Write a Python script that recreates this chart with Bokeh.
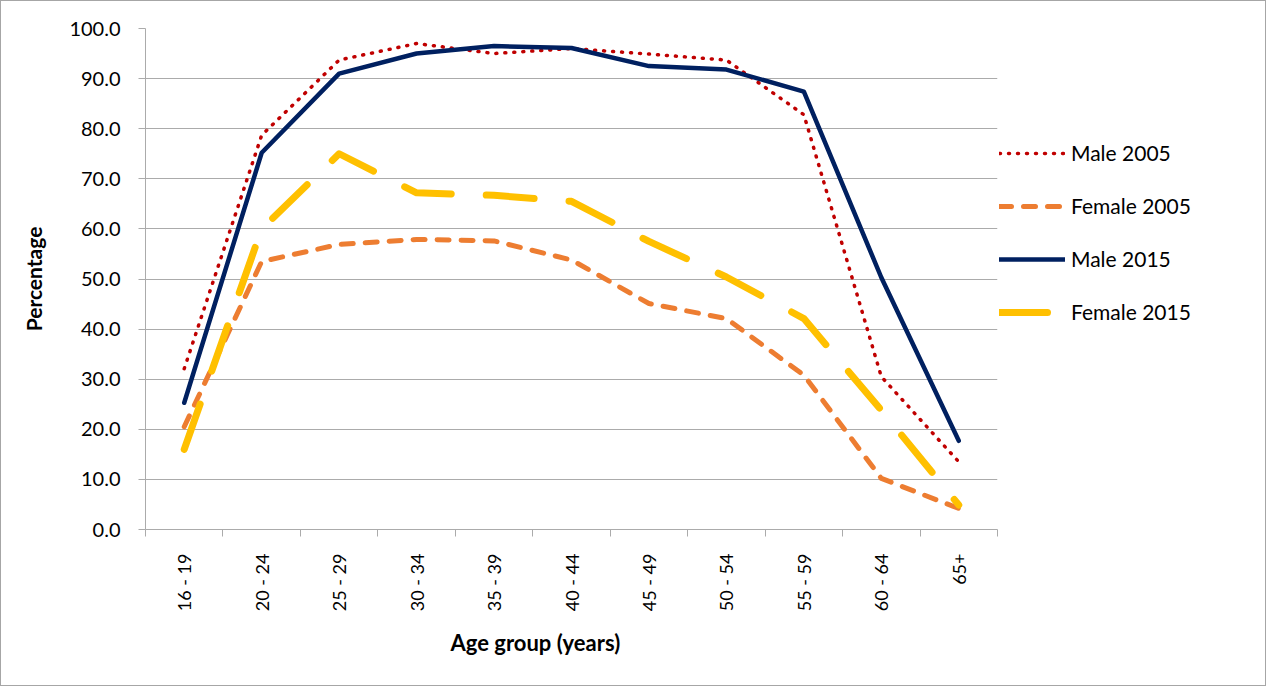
import math
from bokeh.plotting import figure
from bokeh.layouts import row
from bokeh.models import (Range1d, FixedTicker, Legend, LegendItem, Title,
                          CustomJSTickFormatter, PrintfTickFormatter)
from bokeh.embed import file_html
from bokeh.resources import INLINE

age_groups = ["16 - 19", "20 - 24", "25 - 29", "30 - 34", "35 - 39", "40 - 44",
              "45 - 49", "50 - 54", "55 - 59", "60 - 64", "65+"]
male_2005 = [32.1, 78.7, 93.7, 97.0, 95.0, 96.0, 94.9, 93.7, 82.8, 30.5, 13.5]
female_2005 = [20.5, 53.5, 56.9, 57.9, 57.6, 53.8, 45.1, 42.1, 30.8, 10.2, 4.2]
male_2015 = [25.3, 75.2, 91.0, 95.0, 96.5, 96.1, 92.5, 91.8, 87.4, 50.3, 17.7]
female_2015 = [16.0, 60.0, 75.0, 67.2, 66.7, 65.5, 57.5, 50.4, 42.1, 23.8, 4.9]
y_ticks = [0, 10, 20, 30, 40, 50, 60, 70, 80, 90, 100]
series_names = ["Male 2005", "Female 2005", "Male 2015", "Female 2015"]

FONT = "Lato"
GRID = "#ababab"

styles = [
    dict(line_color="#C00000", line_width=3.5, line_dash="1 8"),
    dict(line_color="#ED7D31", line_width=5, line_dash="12 12"),
    dict(line_color="#002060", line_width=4.5, line_dash="solid"),
    dict(line_color="#FFC000", line_width=7, line_dash="48 35"),
]
series = [male_2005, female_2005, male_2015, female_2015]

n = len(age_groups)
xs = [i + 0.5 for i in range(n)]

p = figure(width=998, height=684, x_range=Range1d(0, n), y_range=Range1d(0, 100),
           output_backend="svg", toolbar_location=None,
           min_border_left=144, min_border_right=2, min_border_top=27, min_border_bottom=156)
p.outline_line_color = None
p.background_fill_color = "white"
p.border_fill_color = "white"

# y axis
p.yaxis.ticker = FixedTicker(ticks=y_ticks)
p.yaxis.formatter = PrintfTickFormatter(format="%.1f")
p.yaxis.axis_line_color = GRID
p.yaxis.major_tick_line_color = GRID
p.yaxis.major_tick_out = 7
p.yaxis.major_tick_in = 0
p.yaxis.minor_tick_line_color = None
p.yaxis.major_label_standoff = 18
p.yaxis.major_label_text_font = FONT
p.yaxis.major_label_text_font_size = "20px"
p.yaxis.major_label_text_color = "black"
p.yaxis.axis_label = "Percentage"
p.yaxis.axis_label_standoff = 20
p.yaxis.axis_label_text_font = FONT
p.yaxis.axis_label_text_font_style = "bold"
p.yaxis.axis_label_text_font_size = "21px"
p.yaxis.axis_label_text_color = "black"

# x axis
p.xaxis.ticker = FixedTicker(ticks=xs, minor_ticks=list(range(n + 1)))
p.xaxis.formatter = CustomJSTickFormatter(args=dict(labels=age_groups),
                                          code="const i = Math.round(tick - 0.5); return labels[i] || '';")
p.xaxis.axis_line_color = GRID
p.xaxis.major_tick_line_color = None
p.xaxis.major_tick_out = 0
p.xaxis.major_tick_in = 0
p.xaxis.minor_tick_line_color = GRID
p.xaxis.minor_tick_out = 7
p.xaxis.minor_tick_in = 0
p.xaxis.major_label_orientation = math.pi / 2
p.xaxis.major_label_standoff = 17
p.xaxis.major_label_text_font = FONT
p.xaxis.major_label_text_font_size = "18px"
p.xaxis.major_label_text_color = "black"

p.xgrid.grid_line_color = None
p.ygrid.ticker = FixedTicker(ticks=y_ticks)
p.ygrid.grid_line_color = GRID
p.ygrid.grid_line_width = 1

for vals, st in zip(series, styles):
    p.line(xs, vals, line_cap="round", line_join="round", **st)

p.add_layout(Title(text="Age group (years)", align="left", offset=305, standoff=24,
                   text_font=FONT, text_font_style="bold", text_font_size="22px",
                   text_color="black"), "below")

# legend panel (its frame is aligned with the main frame by the row layout);
# the series are drawn again outside its visible range so only the legend shows
lg = figure(width=266, height=684, x_range=Range1d(-3, -2), y_range=Range1d(0, 100),
            output_backend="svg", toolbar_location=None, x_axis_type=None, y_axis_type=None,
            min_border_left=0, min_border_right=0, min_border_top=0, min_border_bottom=0)
lg.outline_line_color = None
lg.xgrid.grid_line_color = None
lg.ygrid.grid_line_color = None
lg.border_fill_color = "white"
items = []
for name, vals, st in zip(series_names, series, styles):
    r = lg.line(xs, vals, line_cap="round", line_join="round", **st)
    items.append(LegendItem(label=name, renderers=[r]))
legend = Legend(items=items, location=(0, 205), orientation="vertical",
                glyph_width=66, glyph_height=24, label_height=24, spacing=28,
                padding=0, margin=0, border_line_color=None, background_fill_alpha=0,
                label_standoff=6, label_text_font=FONT, label_text_font_size="21px",
                label_text_color="black")
lg.add_layout(legend)

layout = row(p, lg, styles={"border": "1px solid #a6a6a6"})

open("out.html", "w").write(file_html(layout, INLINE))
